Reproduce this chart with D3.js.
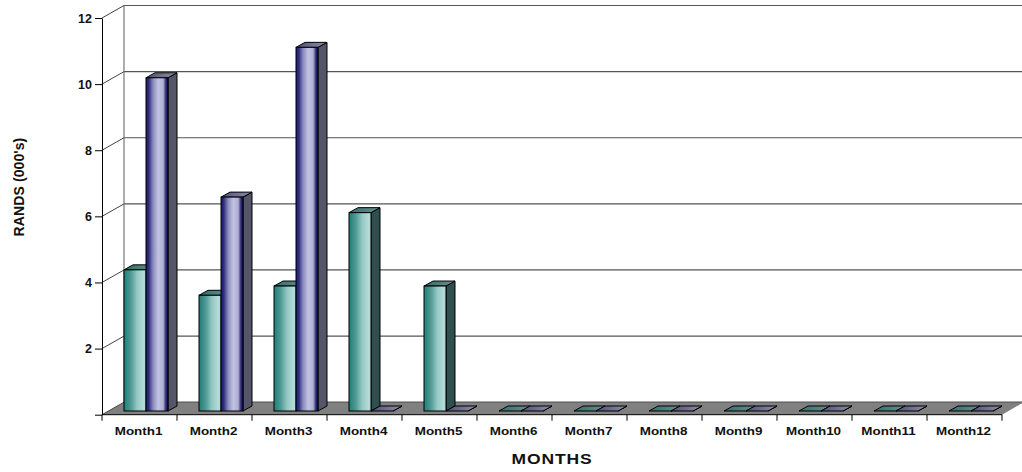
<!DOCTYPE html>
<html>
<head>
<meta charset="utf-8">
<script src="https://cdn.jsdelivr.net/npm/d3@7"></script>
<style>
  html, body { margin: 0; padding: 0; background: #fff; }
  svg { display: block; }
  text { font-family: "Liberation Sans", Arial, sans-serif; font-weight: bold; fill: #111; }
</style>
</head>
<body>
<div id="chart"></div>
<script>
// Values
const months = ['Month1', 'Month2', 'Month3', 'Month4', 'Month5', 'Month6',
  'Month7', 'Month8', 'Month9', 'Month10', 'Month11', 'Month12'];
const seriesA = [4.27, 3.5, 3.78, 6.0, 3.78, 0, 0, 0, 0, 0, 0, 0];
const seriesB = [10.08, 6.47, 11.0, 0, 0, 0, 0, 0, 0, 0, 0, 0];
const yTicks = [0, 2, 4, 6, 8, 10, 12];

const width = 1022, height = 472;

// Front plane of the 3D box, and how far back the walls sit
const frontLeft = 102, frontRight = 1002, frontBottom = 414.7, frontTop = 18;
const wallDx = 22, wallDy = 12.5;
// Bars stand a little way into the floor and have their own depth
const barDx = 6.6, barDy = 3.7, barDepthX = 9, barDepthY = 5;
const barWidth = 22, barOffset = 15.4;

const x = d3.scaleBand().domain(months).range([frontLeft, frontRight]);
const y = d3.scaleLinear().domain([0, 12]).range([frontBottom, frontTop]);

const svg = d3.select('#chart').append('svg')
  .attr('width', width)
  .attr('height', height)
  .attr('viewBox', `0 0 ${width} ${height}`);

// Bar gradients
const defs = svg.append('defs');
function addGradient(id, stops) {
  const g = defs.append('linearGradient').attr('id', id)
    .attr('x1', 0).attr('x2', 1).attr('y1', 0).attr('y2', 0);
  stops.forEach(s => g.append('stop').attr('offset', s[0]).attr('stop-color', s[1]));
}
addGradient('teal', [[0, '#1f7f78'], [0.3, '#4f9893'], [0.6, '#95c8c4'], [0.9, '#b4dcd8'], [1, '#a8d4d0']]);
addGradient('blue', [[0, '#1a1a70'], [0.12, '#2c2c7a'], [0.32, '#8a8abc'], [0.55, '#c2c2e2'], [0.78, '#b0b0d6'], [0.9, '#30307c'], [1, '#0a0a50']]);
addGradient('tealTop', [[0, '#2f6f6b'], [1, '#6a8f8d']]);
addGradient('blueTop', [[0, '#50507a'], [1, '#8e8ea8']]);

const line = d3.line();

// Floor
svg.append('path')
  .attr('d', line([
    [frontLeft, frontBottom],
    [frontLeft + wallDx, frontBottom - wallDy],
    [frontRight + wallDx, frontBottom - wallDy],
    [frontRight, frontBottom]
  ]) + 'Z')
  .attr('fill', '#808080');

// Back wall gridlines
svg.append('g').selectAll('line')
  .data(yTicks)
  .join('line')
  .attr('x1', frontLeft + wallDx)
  .attr('x2', frontRight + wallDx)
  .attr('y1', d => y(d) - wallDy)
  .attr('y2', d => y(d) - wallDy)
  .attr('stroke', '#555')
  .attr('stroke-width', 1.2);

// Left wall
svg.append('line')
  .attr('x1', frontLeft + wallDx).attr('x2', frontLeft + wallDx)
  .attr('y1', y(12) - wallDy).attr('y2', y(0) - wallDy)
  .attr('stroke', '#777')
  .attr('stroke-width', 1.2);

svg.append('g').selectAll('line')
  .data(yTicks)
  .join('line')
  .attr('x1', frontLeft)
  .attr('x2', frontLeft + wallDx)
  .attr('y1', d => y(d))
  .attr('y2', d => y(d) - wallDy)
  .attr('stroke', '#444')
  .attr('stroke-width', 1);

// One 3D bar: front face, side face and top face
function drawBar(group, value, left, front, side, top) {
  const bottom = y(0) - barDy;
  const height = y(0) - y(value);
  const t = bottom - height;
  const right = left + barWidth;
  const outline = { stroke: '#000', width: 1 };

  group.append('path')
    .attr('d', line([[right, t], [right + barDepthX, t - barDepthY],
      [right + barDepthX, bottom - barDepthY], [right, bottom]]) + 'Z')
    .attr('fill', side).attr('stroke', outline.stroke).attr('stroke-width', outline.width);
  group.append('path')
    .attr('d', line([[left, t], [left + barDepthX, t - barDepthY],
      [right + barDepthX, t - barDepthY], [right, t]]) + 'Z')
    .attr('fill', `url(#${top})`).attr('stroke', outline.stroke).attr('stroke-width', outline.width);
  if (height > 0) {
    group.append('rect')
      .attr('x', left).attr('y', t)
      .attr('width', barWidth).attr('height', height)
      .attr('fill', `url(#${front})`).attr('stroke', outline.stroke).attr('stroke-width', outline.width);
  }
}

const bars = svg.append('g');
months.forEach((m, i) => {
  const left = x(m) + barDx + barOffset;
  drawBar(bars.append('g'), seriesA[i], left, 'teal', '#2f4f4f', 'tealTop');
  drawBar(bars.append('g'), seriesB[i], left + barWidth, 'blue', '#55556a', 'blueTop');
});

// Y axis
const yAxis = d3.axisLeft(y)
  .tickValues(yTicks)
  .tickSize(7)
  .tickSizeOuter(0)
  .tickPadding(3)
  .tickFormat(d => d === 0 ? '' : d);
const yAxisGroup = svg.append('g')
  .attr('transform', `translate(${frontLeft},0)`)
  .call(yAxis);
yAxisGroup.selectAll('text').style('font-size', '12.5px').style('font-family', '"Liberation Sans"');
yAxisGroup.selectAll('path, line').attr('stroke', '#000');

// X axis: ticks sit on the band edges, labels in the band centres
const xAxis = d3.axisBottom(x).tickSize(0).tickPadding(12);
const xAxisGroup = svg.append('g')
  .attr('transform', `translate(0,${frontBottom})`)
  .call(xAxis);
xAxisGroup.select('.domain').attr('stroke', '#000').attr('d', `M${frontLeft},0H${frontRight}`);
xAxisGroup.selectAll('text')
  .style('font-size', '11px')
  .style('font-family', '"Liberation Sans"')
  .attr('x', -0.8)
  .attr('transform', 'scale(1.22,1)');

xAxisGroup.selectAll('.edge')
  .data(d3.range(months.length + 1))
  .join('line')
  .attr('class', 'edge')
  .attr('x1', i => frontLeft + i * x.step())
  .attr('x2', i => frontLeft + i * x.step())
  .attr('y1', 0)
  .attr('y2', 6)
  .attr('stroke', '#000');

// Axis titles
svg.append('text')
  .attr('transform', 'translate(552,463.5) scale(1.25,1)')
  .attr('text-anchor', 'middle')
  .style('font-size', '14px')
  .style('letter-spacing', '0.7px')
  .text('MONTHS');

svg.append('text')
  .attr('transform', 'translate(23.5,187) rotate(-90)')
  .attr('text-anchor', 'middle')
  .style('font-size', '14px')
  .style('letter-spacing', '0.1px')
  .text("RANDS (000's)");
</script>
</body>
</html>
